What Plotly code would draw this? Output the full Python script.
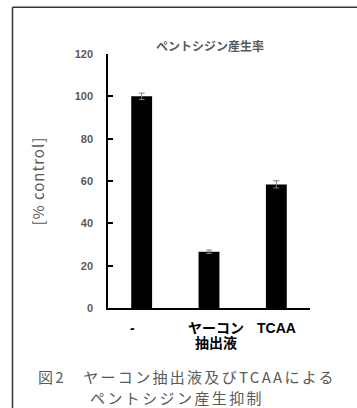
import plotly.graph_objects as go

categories = ["-", "ヤーコン<br>抽出液", "TCAA"]
values = [100.0, 26.6, 58.4]
errors = [1.5, 0.8, 1.7]
y_ticks = [0, 20, 40, 60, 80, 100, 120]

title_text = "ペントシジン産生率"
y_title = "[% control]"
caption_line1 = "図2　ヤーコン抽出液及びTCAAによる"
caption_line2 = "ペントシジン産生抑制"

# small horizontal nudges of the category labels (Excel-like placement)
label_shift = [-9, 7, 0]

W, H = 357, 408
L, R, T, B = 108, 47, 54, 100
plot_w = W - L - R
plot_h = H - T - B

def px_to_paper_x(px):
    return (px - L) / plot_w

def px_to_paper_y(py):
    return (H - B - py) / plot_h

JP = "Noto Sans CJK JP"
NUM = "Liberation Sans"
GRAY = "#595959"

def spaced(s, sp):
    return '<span style="letter-spacing:%spx">%s</span>' % (sp, s)

fig = go.Figure()
fig.add_trace(go.Bar(
    x=categories,
    y=values,
    width=0.31,
    marker=dict(color="#000000", line=dict(width=0)),
    error_y=dict(type="data", array=errors, visible=True,
                 color="#7f7f7f", thickness=1, width=3),
    showlegend=False,
))

annotations = []
for cat, shift in zip(categories, label_shift):
    for i, line in enumerate(cat.split("<br>")):
        annotations.append(dict(
            text=line, x=cat, xref="x", y=px_to_paper_y(328 + 15 * i), yref="paper",
            xanchor="center", yanchor="middle", xshift=shift, showarrow=False,
            font=dict(family=NUM + ", " + JP, size=14, color="#000000", weight="bold"),
        ))

annotations += [
    dict(text=spaced(caption_line1, 2.3), xref="paper", yref="paper",
         x=px_to_paper_x(36), y=px_to_paper_y(376), xanchor="left", yanchor="middle",
         showarrow=False, font=dict(family=JP, size=15, color=GRAY)),
    dict(text=spaced(caption_line2, 2.4), xref="paper", yref="paper",
         x=px_to_paper_x(88), y=px_to_paper_y(397), xanchor="left", yanchor="middle",
         showarrow=False, font=dict(family=JP, size=15, color=GRAY)),
]

fig.update_layout(
    width=W, height=H,
    margin=dict(l=L, r=R, t=T, b=B, pad=0),
    paper_bgcolor="white",
    plot_bgcolor="white",
    title=dict(text=title_text, x=px_to_paper_x(210), xref="paper", xanchor="center",
               y=1 - 47 / H, yref="container", yanchor="middle",
               font=dict(family=JP, size=12, color=GRAY, weight="bold")),
    xaxis=dict(
        type="category",
        range=[-0.5, 2.5],
        showline=True, linecolor="#000000", linewidth=1.5,
        ticks="", showgrid=False, zeroline=False,
        showticklabels=False,
    ),
    yaxis=dict(
        range=[0, 120],
        tickvals=y_ticks,
        showline=True, linecolor="#000000", linewidth=1.5,
        ticks="inside", ticklen=5, tickwidth=1.5, tickcolor="#000000",
        showgrid=False, zeroline=False,
        tickfont=dict(family=NUM, size=11, color=GRAY, weight="bold"),
        ticklabelstandoff=11,
        title=dict(text=spaced(y_title, 1), font=dict(family=JP, size=15, color=GRAY, weight="normal"),
                   standoff=26),
    ),
    shapes=[
        dict(type="line", xref="paper", yref="paper",
             x0=px_to_paper_x(12.5), x1=px_to_paper_x(12.5),
             y0=px_to_paper_y(420), y1=px_to_paper_y(7.3),
             line=dict(color="#333333", width=1.5)),
        dict(type="line", xref="paper", yref="paper",
             x0=px_to_paper_x(12.5), x1=px_to_paper_x(370),
             y0=px_to_paper_y(7.3), y1=px_to_paper_y(7.3),
             line=dict(color="#333333", width=1.5)),
    ],
    annotations=annotations,
)

fig.write_html("out.html")
